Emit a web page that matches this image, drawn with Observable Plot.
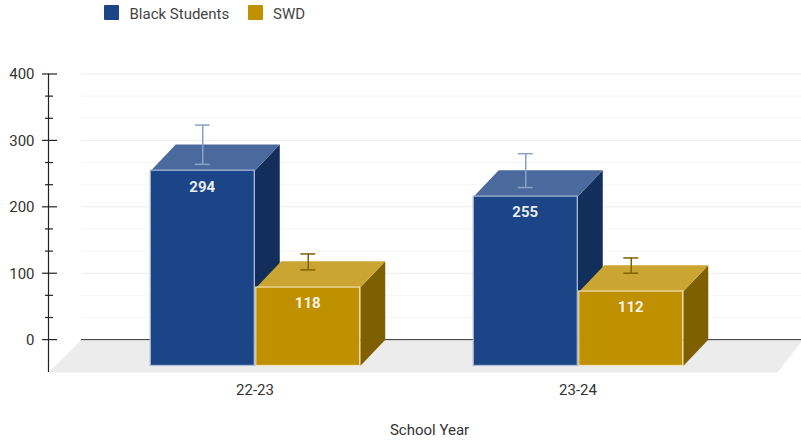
<!DOCTYPE html>
<html><head><meta charset="utf-8">
<script src="https://cdn.jsdelivr.net/npm/d3@7"></script>
<script src="https://cdn.jsdelivr.net/npm/@observablehq/plot@0.6"></script>
<style>
html,body{margin:0;padding:0;background:#fff;overflow:hidden}
#wrap{position:relative;width:801px;height:440px;font-family:Roboto,sans-serif}
#wrap svg{display:block;position:absolute;left:0;top:0}
.leg{position:absolute;top:0;left:0;height:26px;width:801px;font-size:15px;color:#444}
.sw{position:absolute;top:5px;width:15px;height:15px;border-radius:1px}
.lb{position:absolute;top:5px;line-height:18px;white-space:nowrap}
</style></head><body>
<div id="wrap">
<div class="leg">
<div class="sw" id="s0" style="left:104px"></div><div class="lb" style="left:129.5px">Black Students</div>
<div class="sw" id="s1" style="left:248px"></div><div class="lb" style="left:273px">SWD</div>
</div>
</div>
<script>
const years = ["22-23", "23-24"];
const seriesNames = ["Black Students", "SWD"];
const blackValues = [294, 255];
const swdValues = [118, 112];
const blackErrLow = [264, 229];
const blackErrHigh = [323, 280];
const swdErrLow = [105, 100];
const swdErrHigh = [129, 123];
const frontColors = ["#1c4587", "#bf9000"];
const topColors = ["#4a6a9e", "#cba531"];
const sideColors = ["#122e5a", "#7f6000"];
const edgeColors = ["#a9bbd6", "#f0e2b4"];
const errColors = ["#8ba2c6", "#7f6000"];
const majorTicks = [0, 100, 200, 300, 400];
const minorTicks = [33.3, 66.7, 133.3, 166.7, 233.3, 266.7, 333.3, 366.7];

// x unit = distance between the two year groups; y unit = value
const depthX = 0.0774, depthY = 39.6, barW = 0.322, gap = 0.0046;
const values = [blackValues, swdValues], lows = [blackErrLow, swdErrLow], highs = [blackErrHigh, swdErrHigh];

const bars = years.flatMap((year, g) => seriesNames.map((name, s) => {
  const x1 = s === 0 ? g - gap / 2 - barW : g + gap / 2;
  return {year, g, s, name, x1, x2: x1 + barW, xc: x1 + barW / 2, v: values[s][g], lo: lows[s][g], hi: highs[s][g]};
}));
const poly = (b, kind) => {
  const top = b.v - depthY, bot = -depthY;
  const pts = kind === "top"
    ? [[b.x1, top], [b.x1 + depthX, b.v], [b.x2 + depthX, b.v], [b.x2, top]]
    : [[b.x2, top], [b.x2 + depthX, b.v], [b.x2 + depthX, 0], [b.x2, bot]];
  return pts.map(([x, y]) => ({x, y, id: `${kind}-${b.g}-${b.s}`, s: b.s, kind}));
};
const faces = bars.flatMap(b => [...poly(b, "side"), ...poly(b, "top")]);
const floorPts = [
  {x: -0.5387, y: 0}, {x: 1.695, y: 0}, {x: 1.616, y: -49.5}, {x: -0.641, y: -49.5}
];

const barMarks = bars.flatMap(b => {
  const f = faces.filter(d => d.id.endsWith(`${b.g}-${b.s}`));
  return [
    Plot.line(f.filter(d => d.kind === "side"), {x: "x", y: "y", z: "id", fill: sideColors[b.s], stroke: null, curve: "linear"}),
    Plot.line(f.filter(d => d.kind === "top"), {x: "x", y: "y", z: "id", fill: topColors[b.s], stroke: null, curve: "linear"}),
    Plot.rect([b], {x1: "x1", x2: "x2", y1: -depthY, y2: d => d.v - depthY, fill: frontColors[b.s], stroke: edgeColors[b.s], strokeWidth: 1.2}),
    Plot.ruleX([b], {x: "xc", y1: "lo", y2: "hi", stroke: errColors[b.s], strokeWidth: 1.5}),
    Plot.ruleY([b], {y: "hi", x1: d => d.xc - 0.023, x2: d => d.xc + 0.023, stroke: errColors[b.s], strokeWidth: 1.5}),
    Plot.ruleY([b], {y: "lo", x1: d => d.xc - 0.023, x2: d => d.xc + 0.023, stroke: errColors[b.s], strokeWidth: 1.5}),
    Plot.text([b], {x: "xc", y: d => d.v - depthY, dy: 16, dx: -0.5, text: d => String(d.v), fill: "#fff", fillOpacity: 0.92, fontWeight: 700, fontFamily: "Roboto"})
  ];
});

const gridLeft = -0.5387, gridRight = 1.7;
const chart = Plot.plot({
  width: 801, height: 440,
  marginLeft: 48, marginRight: 0, marginTop: 73.5, marginBottom: 68,
  style: {background: "transparent", fontFamily: "Roboto, sans-serif"},
  x: {type: "linear", domain: [-0.6409, 1.6904], axis: null},
  y: {type: "linear", domain: [-49.5, 400], axis: null},
  marks: [
    Plot.line(floorPts, {x: "x", y: "y", fill: "#ececec", stroke: null}),
    Plot.ruleY(minorTicks, {x1: gridLeft, x2: gridRight, stroke: "#f5f5f5", strokeWidth: 1}),
    Plot.ruleY(majorTicks.filter(d => d > 0), {x1: gridLeft, x2: gridRight, stroke: "#ececec", strokeWidth: 1}),
    Plot.ruleY([0], {x1: gridLeft, x2: gridRight, stroke: "#333", strokeWidth: 1}),
    ...barMarks,
    Plot.ruleX([-0.6409], {y1: -49.5, y2: 400, stroke: "#222", strokeWidth: 1.2}),
    Plot.ruleY(majorTicks, {x1: -0.6594, x2: -0.6130, stroke: "#222", strokeWidth: 1.2}),
    Plot.ruleY(minorTicks, {x1: -0.6502, x2: -0.6254, stroke: "#222", strokeWidth: 1.2}),
    Plot.axisY({ticks: majorTicks, tickSize: 0, tickPadding: 14, dy: 0.5, label: null, fill: "#333", tickFormat: d => String(d)}),
    Plot.axisX({ticks: [0, 1], tickFormat: d => years[d], tickSize: 0, tickPadding: 12, dx: -0.5, label: null, fill: "#333"}),
    Plot.text(["School Year"], {x: () => 0.5387, frameAnchor: "bottom", dy: 62, fill: "#333", fontFamily: "Roboto"})
  ]
});
const wrap = document.getElementById("wrap");
wrap.insertBefore(chart, wrap.firstChild);
chart.querySelectorAll("text").forEach(t => t.style.fontSize = "15px");
document.getElementById("s0").style.background = frontColors[0];
document.getElementById("s1").style.background = frontColors[1];
</script>
</body></html>
